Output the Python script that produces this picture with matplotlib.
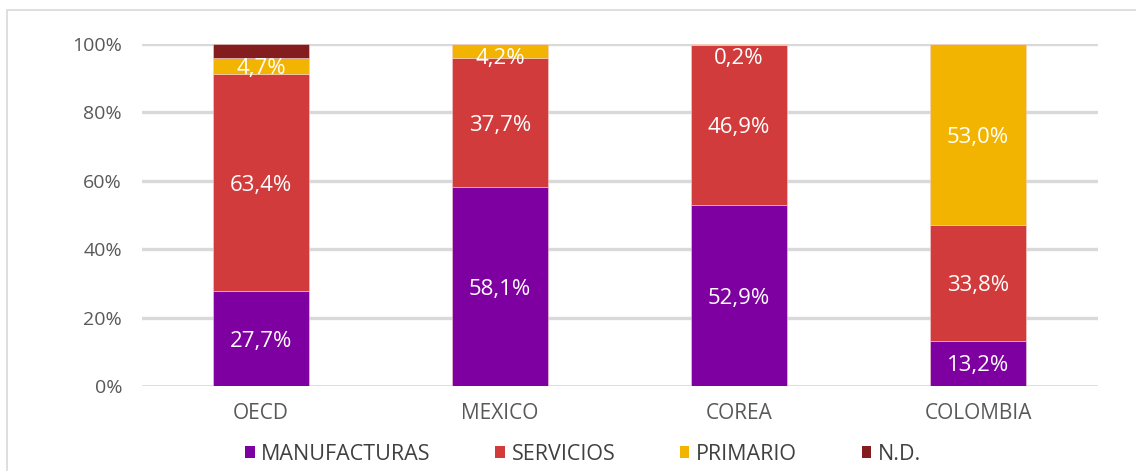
import matplotlib
matplotlib.use("Agg")
import matplotlib.pyplot as plt
from matplotlib.patches import Rectangle, Patch
import numpy as np

plt.rcParams['font.family'] = ['Open Sans', 'DejaVu Sans']

categories = ["OECD", "MEXICO", "COREA", "COLOMBIA"]
series_names = ["MANUFACTURAS", "SERVICIOS", "PRIMARIO", "N.D."]
manufacturas = [27.7, 58.1, 52.9, 13.2]
servicios = [63.4, 37.7, 46.9, 33.8]
primario = [4.7, 4.2, 0.2, 53.0]
nd = [4.2, 0.0, 0.0, 0.0]
# which segments carry a visible label
show_label = {
    "MANUFACTURAS": [True, True, True, True],
    "SERVICIOS": [True, True, True, True],
    "PRIMARIO": [True, True, True, True],
    "N.D.": [False, False, False, False],
}
colors = ["#7F00A0", "#D13B3B", "#F2B400", "#841E1E"]
yticks = [0, 20, 40, 60, 80, 100]

fig = plt.figure(figsize=(11.36, 4.71), dpi=100)
# outer frame
fig.patches.append(Rectangle((7/1136, -0.1), 1.2, (1 - 10/471) + 0.1, transform=fig.transFigure,
                             fill=False, edgecolor="#d9d9d9", linewidth=1.2))
ax = fig.add_axes([141.5/1136, 1 - 386/471, (1097.5 - 141.5)/1136, (386 - 44)/471])

x = np.arange(len(categories))
width = 0.405
bottom = np.zeros(len(categories))
all_series = [manufacturas, servicios, primario, nd]
for name, vals, col in zip(series_names, all_series, colors):
    vals = np.array(vals)
    ax.bar(x, vals, width, bottom=bottom, color=col, edgecolor="#f3d0d0", linewidth=0.4, zorder=3)
    for i, v in enumerate(vals):
        if show_label[name][i] and v > 0:
            yc = min(bottom[i] + v / 2, 96.4)
            ax.text(x[i], yc, f"{v:.1f}%".replace(".", ","), ha="center", va="center_baseline",
                    color="#ffffff", fontsize=16, fontweight="normal", zorder=4)
    bottom += vals

ax.set_xlim(-0.5, len(categories) - 0.5)
ax.set_ylim(0, 100)
ax.set_yticks(yticks)
ax.set_yticklabels([f"{t}%" for t in yticks], fontsize=14)
ax.set_xticks(x)
ax.set_xticklabels(categories, fontsize=15)
for s in ax.spines.values():
    s.set_visible(False)
ax.tick_params(axis="both", length=0, colors="#595959")
ax.tick_params(axis="y", pad=14)
ax.tick_params(axis="x", pad=12)
for t in yticks[1:]:
    ax.axhline(t, color="#d9d9d9", linewidth=2.4, zorder=1)
ax.axhline(0, color="#d9d9d9", linewidth=1.2, zorder=1)

handles = [Patch(facecolor=c, edgecolor="none") for c in colors]
leg = fig.legend(handles, series_names, loc="center", bbox_to_anchor=(583/1136, 1 - 454/471),
                 ncol=4, frameon=False, prop={"size": 15.5},
                 handlelength=0.45, handleheight=0.45,
                 handletextpad=0.3, columnspacing=3.0)
for t in leg.get_texts():
    t.set_color("#404040")

fig.savefig("out.png", dpi=100)
